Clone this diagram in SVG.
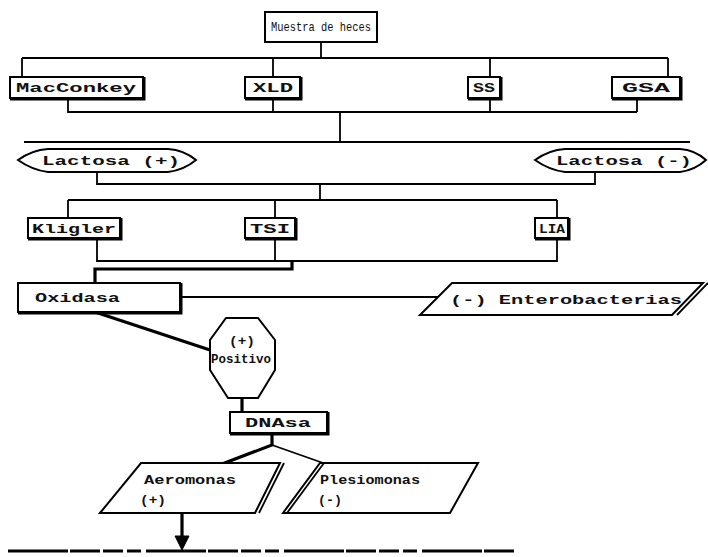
<svg xmlns="http://www.w3.org/2000/svg" width="708" height="557" viewBox="0 0 708 557">
  <style>
    .box { fill: #fff; stroke: #000; stroke-width: 2; }
    .sh { fill: none; stroke: #000; stroke-width: 3; }
    .ln { fill: none; stroke: #000; stroke-width: 1.8; }
    .thk { fill: none; stroke: #000; stroke-width: 3.2; }
    text { font-family: "Liberation Mono", "DejaVu Sans Mono", monospace; font-size: 13px; font-weight: bold; fill: #111; }
  </style>
  <rect width="708" height="557" fill="#fff"/>

  <!-- connectors -->
  <g id="connectors">
    <path class="ln" d="M321,43 V58 M22,58 H668 M22,58 V77 M273,58 V77 M490,58 V77 M668,58 V77"/>
    <path class="ln" d="M68,98 V112 H637 M273,98 V112 M490,98 V112 M637,98 V112 M340,112 V142"/>
    <path class="ln" d="M24,142 H690"/>
    <path class="ln" d="M97,172 V184 H595 V172 M320,184 V200 M68,200 H557 M68,200 V218 M275,200 V218 M557,200 V218"/>
    <path class="ln" d="M97,238 V261 H557 V238 M275,238 V261"/>
    <path class="thk" d="M95,283 V269 H292 V261"/>
    <path class="ln" d="M180,297 H440"/>
    <path class="thk" d="M95,312 L210,350"/>
    <path class="thk" d="M242,398 V412"/>
    <path class="thk" d="M272,433 V445 L222,464"/>
    <path class="ln" d="M272,445 L326,464"/>
    <path class="thk" d="M182,513 V537"/>
    <path d="M175,536 L189,536 L182,550 Z" fill="#000" stroke="#000" stroke-width="1"/>
    <path d="M8,551 H515" stroke="#000" stroke-width="3" stroke-dasharray="60 2 30 3 20 4 14 5" fill="none"/>
  </g>

  <g id="muestra">
    <rect class="box" x="265" y="12" width="112" height="30"/>
    <text x="271" y="31" textLength="100" lengthAdjust="spacingAndGlyphs" style="font-weight:normal">Muestra de heces</text>
  </g>

  <g id="macconkey">
    <rect class="box" x="10" y="77" width="133" height="21"/>
    <path class="sh" d="M10,99 H144 V77"/>
    <text x="16" y="92" textLength="120" lengthAdjust="spacingAndGlyphs">MacConkey</text>
  </g>
  <g id="xld">
    <rect class="box" x="245" y="77" width="55" height="21"/>
    <path class="sh" d="M245,99 H301 V77"/>
    <text x="253" y="92" textLength="40" lengthAdjust="spacingAndGlyphs">XLD</text>
  </g>
  <g id="ss">
    <rect class="box" x="468" y="77" width="32" height="21"/>
    <path class="sh" d="M468,99 H501 V77"/>
    <text x="473" y="92" textLength="22" lengthAdjust="spacingAndGlyphs">SS</text>
  </g>
  <g id="gsa">
    <rect class="box" x="612" y="77" width="68" height="21"/>
    <path class="sh" d="M612,99 H681 V77"/>
    <text x="622" y="92" textLength="48" lengthAdjust="spacingAndGlyphs">GSA</text>
  </g>

  <g id="lactosa-pos">
    <path class="box" d="M18,160 Q32,150 48,149 L168,149 Q184,150 196,160 Q184,170 168,172 L48,172 Q32,170 18,160 Z"/>
    <text x="42" y="165" textLength="138" lengthAdjust="spacingAndGlyphs">Lactosa (+)</text>
  </g>
  <g id="lactosa-neg">
    <path class="box" d="M535,160 Q549,150 565,149 L680,149 Q695,150 706,160 Q695,170 680,172 L565,172 Q549,170 535,160 Z"/>
    <text x="556" y="165" textLength="136" lengthAdjust="spacingAndGlyphs">Lactosa (-)</text>
  </g>

  <g id="kligler">
    <rect class="box" x="28" y="218" width="92" height="20"/>
    <path class="sh" d="M28,239 H121 V218"/>
    <text x="32" y="233" textLength="84" lengthAdjust="spacingAndGlyphs">Kligler</text>
  </g>
  <g id="tsi">
    <rect class="box" x="245" y="218" width="50" height="20"/>
    <path class="sh" d="M245,239 H296 V218"/>
    <text x="250" y="233" textLength="40" lengthAdjust="spacingAndGlyphs">TSI</text>
  </g>
  <g id="lia">
    <rect class="box" x="535" y="218" width="33" height="20"/>
    <path class="sh" d="M535,239 H569 V218"/>
    <text x="539" y="233" textLength="26" lengthAdjust="spacingAndGlyphs">LIA</text>
  </g>

  <g id="oxidasa">
    <rect class="box" x="18" y="283" width="162" height="29"/>
    <path class="sh" d="M18,313 H181 V283"/>
    <text x="35" y="302" textLength="85" lengthAdjust="spacingAndGlyphs">Oxidasa</text>
  </g>

  <g id="enterobacterias">
    <path class="box" d="M420,315 L452,283 L703,283 L672,315 Z"/>
    <path class="ln" d="M708,283 L677,315"/>
    <text x="450" y="304" font-size="15" textLength="232" lengthAdjust="spacingAndGlyphs">(-) Enterobacterias</text>
  </g>

  <g id="positivo">
    <path class="box" d="M226,318 L258,318 L275,340 L275,370 L258,398 L228,398 L210,370 L210,340 Z"/>
    <text x="229" y="345" textLength="26" lengthAdjust="spacingAndGlyphs">(+)</text>
    <text x="211" y="363" textLength="60" lengthAdjust="spacingAndGlyphs">Positivo</text>
  </g>

  <g id="dnasa">
    <rect class="box" x="230" y="412" width="97" height="21"/>
    <path class="sh" d="M230,434 H328 V412"/>
    <text x="245" y="427" textLength="66" lengthAdjust="spacingAndGlyphs">DNAsa</text>
  </g>

  <g id="aeromonas">
    <path class="box" d="M100,513 L141,463 L280,463 L255,513 Z"/>
    <path class="ln" d="M284,463 L259,513"/>
    <text x="144" y="484" textLength="92" lengthAdjust="spacingAndGlyphs">Aeromonas</text>
    <text x="140" y="504" textLength="26" lengthAdjust="spacingAndGlyphs">(+)</text>
  </g>

  <g id="plesiomonas">
    <path class="box" d="M283,513 L320,463 L478,463 L450,513 Z"/>
    <path class="ln" d="M287,513 L324,463"/>
    <text x="320" y="484" textLength="100" lengthAdjust="spacingAndGlyphs">Plesiomonas</text>
    <text x="318" y="504" textLength="24" lengthAdjust="spacingAndGlyphs">(-)</text>
  </g>
</svg>
